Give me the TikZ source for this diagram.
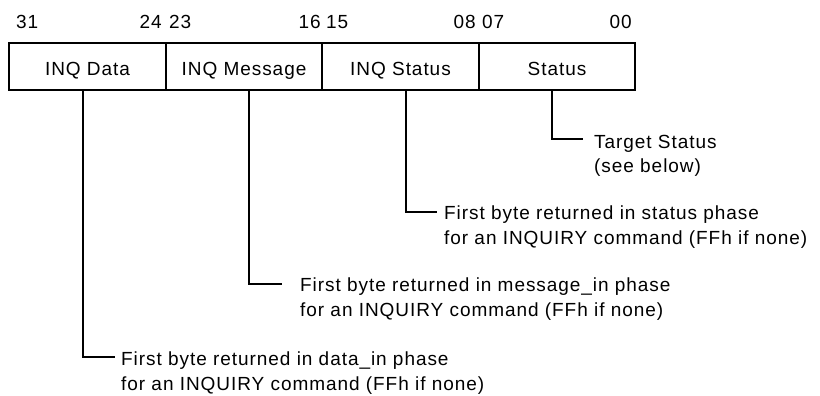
\documentclass[tikz,border=0pt]{standalone}
\usepackage{fontspec}
\setmainfont{Liberation Sans}[LetterSpace=5]
\begin{document}
\begin{tikzpicture}[x=1pt,y=-1pt,
  txt/.style={font=\fontsize{19}{23}\selectfont},
  field/.style={txt,draw,line width=1.7pt,minimum height=47pt,inner sep=0pt,text height=19pt,text depth=0pt},
  bitw/.style={txt,anchor=base west,inner sep=0pt},
  bite/.style={txt,anchor=base east,inner sep=0pt},
  note/.style={txt,anchor=base west,inner sep=0pt},
  conn/.style={line width=1.7pt}]
\useasboundingbox (0,0) rectangle (820,396);
% fields
\node[field,minimum width=157pt] (fdata)   at (87.5,66.5) {INQ Data};
\node[field,minimum width=156pt] (fmsg)    at (244,66.5)  {INQ Message};
\node[field,minimum width=157pt] (fstat)   at (400.5,66.5) {INQ Status};
\node[field,minimum width=156pt] (fstatus) at (557,66.5)  {Status};
% bit numbers
\node[bitw] (b31) at (16,29)  {31};
\node[bite] (b24) at (162,29) {24};
\node[bitw] (b23) at (169,29) {23};
\node[bite] (b16) at (321,29) {16};
\node[bitw] (b15) at (326,29) {15};
\node[bite] (b08) at (476,29) {08};
\node[bitw] (b07) at (482,29) {07};
\node[bite] (b00) at (632,29) {00};
% notes
\node[note] (ts1) at (594,148)   {Target Status};
\node[note] (ts2) at (594,172.5) {(see below)};
\node[note] (st1) at (444,219.3) {First byte returned in status phase};
\node[note] (st2) at (444,244)   {for an INQUIRY command (FFh if none)};
\node[note] (ms1) at (300,291.7) {First byte returned in message\_in phase};
\node[note] (ms2) at (300,316.4) {for an INQUIRY command (FFh if none)};
\node[note] (da1) at (121,365.7) {First byte returned in data\_in phase};
\node[note] (da2) at (121,390.4) {for an INQUIRY command (FFh if none)};
% connector ends
\coordinate (ce1) at (583,139.3);
\coordinate (ce2) at (437,212.3);
\coordinate (ce3) at (281.7,284.3);
\coordinate (ce4) at (115,356.7);
\draw[conn] ([xshift=-5pt]fstatus.south) |- (ce1);
\draw[conn] ([xshift=5.5pt]fstat.south) |- (ce2);
\draw[conn] ([xshift=5.3pt]fmsg.south) |- (ce3);
\draw[conn] ([xshift=-4.8pt]fdata.south) |- (ce4);
\end{tikzpicture}
\end{document}
